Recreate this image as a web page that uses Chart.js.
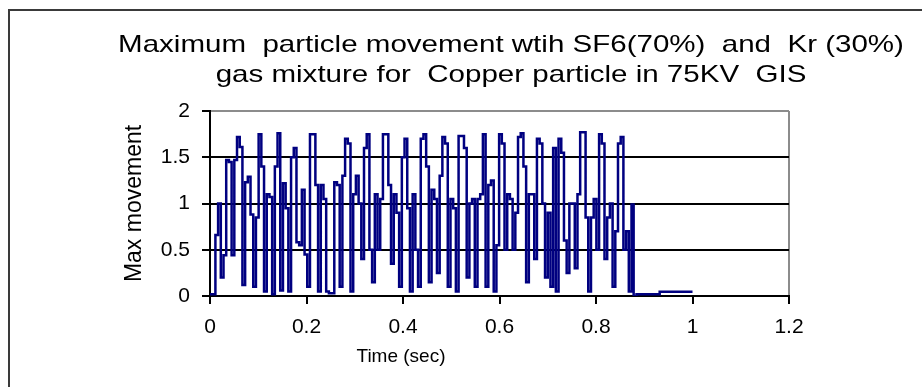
<!DOCTYPE html>
<html>
<head>
<meta charset="utf-8">
<script src="https://cdn.jsdelivr.net/npm/chart.js@4.4.0/dist/chart.umd.min.js"></script>
<style>
html,body{margin:0;padding:0;background:#fff}
canvas{display:block}
</style>
</head>
<body>
<canvas id="chart" width="922" height="387"></canvas>
<script>
const titleLines = ['Maximum  particle movement wtih SF6(70%)  and  Kr (30%)', 'gas mixture for  Copper particle in 75KV  GIS']
const xTitle = 'Time (sec)'
const yTitle = 'Max movement'
const xTicks = [0, 0.2, 0.4, 0.6, 0.8, 1, 1.2]
const yTicks = [0, 0.5, 1, 1.5, 2]

// sampled every sampleStep seconds, starting at t = 0
const sampleStep = 0.0056
const movement = [
  0.02, 0.02, 0.66, 1.0, 0.2, 0.44, 1.47, 1.45, 0.44, 1.47, 1.72, 1.61, 0.12, 1.23, 1.29, 0.88,
  0.1, 0.85, 1.75, 1.4, 0.05, 1.1, 1.07, 0.02, 1.4, 1.76,
  0.06, 1.22, 0.95, 0.05, 1.5, 1.6, 0.58, 0.55, 1.15, 0.45, 0.1, 1.75, 1.75, 1.2, 0.05, 1.2,
  1.05, 0.05, 0.03, 0.03, 1.23, 1.2, 0.1, 1.3,
  1.7, 1.65, 0.05, 1.1, 1.3, 1.0, 0.4, 1.6, 1.75, 0.5, 0.15, 1.1, 0.5, 1.05, 1.75, 1.75,
  1.2, 0.35, 1.1, 0.9, 0.1, 1.5, 1.7, 0.95, 0.05, 1.1,
  0.5, 0.1, 1.7, 1.75, 1.4, 0.15, 1.15, 1.05, 0.25, 1.3, 1.72, 1.65, 0.1, 1.05, 0.95, 0.05,
  1.73, 1.73, 1.6, 0.2, 1.0, 1.05, 0.1, 1.05, 1.1, 1.75,
  0.1, 1.2, 1.25, 0.05, 0.55, 1.75, 1.65, 0.5, 1.1, 1.05, 0.5, 0.9, 1.72, 1.76, 1.4, 0.15,
  1.1, 1.1, 0.4, 1.7, 1.65, 1.0, 0.2, 0.9, 0.1, 1.6,
  0.05, 1.7, 1.55, 0.6, 0.25, 1.0, 1.0, 0.3, 1.1, 1.77, 1.77, 0.85, 0.05, 0.85, 1.05, 0.5,
  1.75, 1.65, 0.4, 0.85, 1.0, 0.1, 0.7, 1.65, 1.72, 0.5, 0.7, 0.05, 0.99
]
// after the particle settles
const tailTimes = [0.878, 0.884, 0.93, 0.932, 1.0]
const tailMovement = [0.0, 0.02, 0.02, 0.045, 0.045]

const FONT = '"Liberation Sans", Arial, sans-serif'

function buildPoints(){
  const pts = movement.map((v, i) => ({x: +(i * sampleStep).toFixed(4), y: v}))
  tailTimes.forEach((t, i) => pts.push({x: t, y: tailMovement[i]}))
  return pts
}

const decor = {
  id: 'decor',
  beforeDraw(chart){
    const c = chart.ctx
    c.save()
    c.fillStyle = '#fff'
    c.fillRect(0, 0, chart.width, chart.height)
    c.strokeStyle = '#3a3a3a'
    c.lineWidth = 2
    c.strokeRect(9, 10, 960, 440)
    c.restore()
  },
  afterDraw(chart){
    const c = chart.ctx
    c.save()
    c.fillStyle = '#000'
    c.textAlign = 'center'
    c.textBaseline = 'middle'
    c.font = '24px ' + FONT
    titleLines.forEach((t, i) => {
      c.save()
      c.translate(511, 45 + i * 30)
      c.scale(1.23, 1)
      c.fillText(t, 0, 0)
      c.restore()
    })
    c.font = '19px ' + FONT
    c.fillText(xTitle, chart.scales.x.getPixelForValue(0.4) - 2, 357)
    c.restore()
  }
}

new Chart(document.getElementById('chart'), {
  type: 'line',
  data: {
    datasets: [{
      data: buildPoints(),
      borderColor: '#000080',
      borderWidth: 2.5,
      pointRadius: 0,
      stepped: true,
      fill: false
    }]
  },
  options: {
    responsive: false,
    animation: false,
    events: [],
    layout: {padding: {left: 118, top: 111, right: 133, bottom: 0}},
    plugins: {legend: {display: false}, tooltip: {enabled: false}, title: {display: false}},
    scales: {
      x: {
        type: 'linear', min: 0, max: 1.2,
        afterBuildTicks: s => { s.ticks = xTicks.map(v => ({value: v})) },
        afterFit: s => { s.height = 91 },
        border: {color: '#000', width: 2},
        grid: {
          color: ctx => (ctx.tick && ctx.tick.value === 1.2) ? '#8c8c8c' : 'rgba(0,0,0,0)',
          lineWidth: 2, tickColor: '#000', tickLength: 8
        },
        ticks: {color: '#000', font: {family: FONT, size: 21}, padding: 11, maxRotation: 0, callback: v => String(v)}
      },
      y: {
        min: 0, max: 2,
        afterBuildTicks: s => { s.ticks = yTicks.map(v => ({value: v})) },
        afterFit: s => { s.width = 92 },
        border: {color: '#000', width: 2},
        grid: {
          color: ctx => (ctx.tick && ctx.tick.value === 2) ? '#8c8c8c' : '#000',
          lineWidth: 2, tickColor: '#000', tickLength: 8
        },
        ticks: {color: '#000', font: {family: FONT, size: 21}, padding: 12, callback: v => String(v)},
        title: {display: true, text: yTitle, color: '#000', font: {family: FONT, size: 23}, padding: {top: 3, bottom: 0}}
      }
    }
  },
  plugins: [decor]
})
</script>
</body>
</html>
